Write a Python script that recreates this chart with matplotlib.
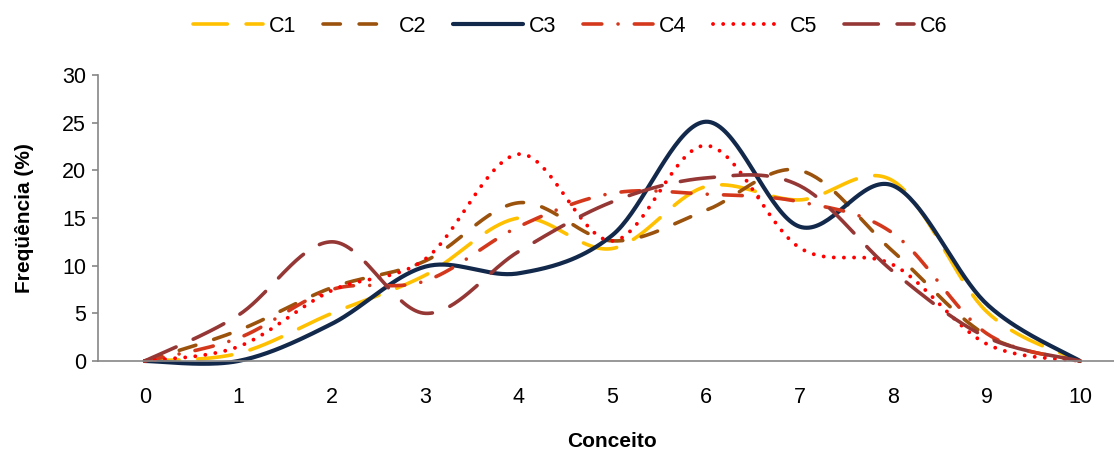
import numpy as np
import matplotlib
matplotlib.use('Agg')
import matplotlib.pyplot as plt

plt.rcParams['font.family'] = ['Liberation Sans', 'DejaVu Sans']

# dados
conceito = [0, 1, 2, 3, 4, 5, 6, 7, 8, 9, 10]
c1 = [0, 0.8, 5.0, 9.0, 15.0, 11.8, 18.3, 16.9, 18.9, 5.2, 0]
c2 = [0, 3.2, 7.7, 10.5, 16.6, 12.6, 15.8, 20.0, 11.5, 2.7, 0]
c3 = [0, 0, 3.9, 9.9, 9.2, 13.2, 25.1, 14.1, 18.4, 6.0, 0]
c4 = [0, 2.4, 7.5, 8.4, 14.1, 17.6, 17.5, 16.7, 13.4, 2.9, 0]
c5 = [0, 1.5, 7.4, 10.7, 21.7, 12.6, 22.6, 11.9, 10.1, 1.8, 0]
c6 = [0, 4.8, 12.5, 5.0, 11.5, 16.7, 19.2, 18.4, 9.4, 2.5, 0]
nomes = ['C1', 'C2', 'C3', 'C4', 'C5', 'C6']
series = [c1, c2, c3, c4, c5, c6]

cores = ['#FFC000', '#9A520C', '#13294B', '#D4381C', '#FF0000', '#953735']
larguras = [2.6, 2.6, 3.0, 2.6, 2.8, 2.6]
tracos = [(9.5, 5.2), (4.8, 5.2), None, (5.2, 4.5, 0.01, 4.5), (0.01, 2.6), (9.5, 5.2)]


# suavizacao tipo Excel (bezier) feita em coordenadas de tela
def suavizar(ax, x, y, n=40):
    pts = ax.transData.transform(np.column_stack([x, y]))
    m = len(pts)
    out = []
    for i in range(m - 1):
        p0 = pts[max(i - 1, 0)]
        p1 = pts[i]
        p2 = pts[i + 1]
        p3 = pts[min(i + 2, m - 1)]
        d12 = np.hypot(*(p2 - p1))
        d02 = np.hypot(*(p2 - p0))
        d13 = np.hypot(*(p3 - p1))
        b1 = p1.copy()
        b2 = p2.copy()
        if d02 > 0:
            b1 = p1 + (p2 - p0) / d02 * min(d02 / 6, d12 / 2)
        if d13 > 0:
            b2 = p2 - (p3 - p1) / d13 * min(d13 / 6, d12 / 2)
        t = np.linspace(0, 1, n)[:, None]
        seg = ((1 - t) ** 3) * p1 + 3 * ((1 - t) ** 2) * t * b1 + 3 * (1 - t) * t ** 2 * b2 + t ** 3 * p2
        if i > 0:
            seg = seg[1:]
        out.append(seg)
    out = np.vstack(out)
    dados = ax.transData.inverted().transform(out)
    return dados[:, 0], dados[:, 1]


fig = plt.figure(figsize=(11.14, 4.5), dpi=100)
ax = fig.add_axes([98 / 1114, 89 / 450, 1028.75 / 1114, 286 / 450])
ax.set_xlim(-0.5, 10.5)
ax.set_ylim(0, 30)

handles = []
for nome, s, cor, lw, tr in zip(nomes, series, cores, larguras, tracos):
    xs, ys = suavizar(ax, conceito, s)
    if tr is None:
        linha, = ax.plot(xs, ys, color=cor, lw=lw, solid_capstyle='round', clip_on=False, label=nome)
    else:
        linha, = ax.plot(xs, ys, color=cor, lw=lw, dashes=tr, dash_capstyle='round', clip_on=False, label=nome)
    handles.append(linha)

for lado in ['top', 'right']:
    ax.spines[lado].set_visible(False)
for lado in ['left', 'bottom']:
    ax.spines[lado].set_color('#868686')
    ax.spines[lado].set_linewidth(1.2)

ax.set_xticks(conceito)
ax.set_yticks(np.arange(0, 31, 5))
ax.tick_params(axis='x', length=0, pad=19, labelsize=15.5)
ax.tick_params(axis='y', length=4.5, width=1.2, color='#868686', pad=4, labelsize=15.5)

ax.set_xlabel('Conceito', fontsize=15, fontweight='bold', labelpad=17)
ax.set_ylabel('Freqüência (%)', fontsize=15, fontweight='bold', labelpad=20)

fig.legend(handles=handles, labels=nomes, loc='center', bbox_to_anchor=(570 / 1114, 1 - 26 / 450),
           ncol=6, frameon=False, fontsize=15.5, handlelength=3.25, handletextpad=0.28,
           columnspacing=1.24)

plt.savefig('out.png', dpi=100)
